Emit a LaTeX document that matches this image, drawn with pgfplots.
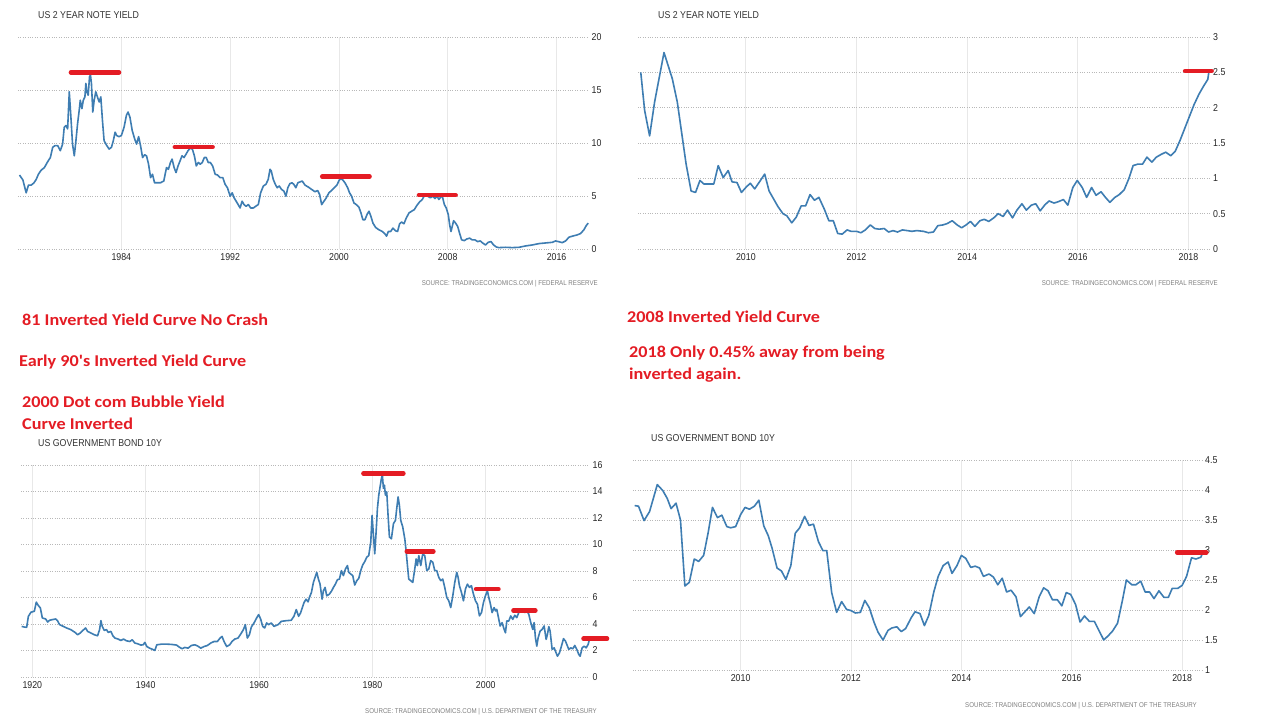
\documentclass[border=0pt]{standalone}
\usepackage{pgfplots}
\pgfplotsset{compat=1.18}
\usepackage{fontspec}
\setmainfont{Liberation Sans}
\newfontfamily\tefont[FakeStretch=0.88]{Liberation Sans}
\newfontfamily\redfont[FakeStretch=1.1]{Carlito}
\definecolor{teblue}{RGB}{62,125,178}
\definecolor{tered}{RGB}{228,28,36}
\pgfplotsset{tepanel/.style={
  anchor=south west, scale only axis, clip=false,
  axis line style={draw=none},
  major tick length=0pt,
  xmajorgrids, ymajorgrids,
  major x grid style={draw=black!9, line width=0.8pt},
  major y grid style={draw=black!28, dotted, line width=0.6pt},
  yticklabel pos=right,
  tick label style={font=\tefont\fontsize{10}{10}\selectfont, text=black!85},
  xticklabel style={inner sep=0pt, yshift=-4pt},
  yticklabel style={inner sep=0pt, xshift=3pt},
  /pgf/number format/assume math mode=true,
  /pgf/number format/1000 sep={},
  scaled ticks=false,
},
teline/.style={teblue, line width=1.6pt, line join=round},
tebar/.style={tered, line width=4.5pt, line cap=round}}
\begin{document}
\begin{tikzpicture}
\fill[white] (0pt,0pt) rectangle (1280pt,728pt);
\path[use as bounding box] (0pt,0pt) rectangle (1280pt,728pt);
% ---------------- Panel 1
\begin{axis}[tepanel, at={(18pt,479pt)}, width=570.5pt, height=212pt,
  xmin=1976.4, xmax=2018.35, ymin=0, ymax=20,
  xtick={1984,1992,2000,2008,2016}, ytick={0,5,10,15,20}]
\addplot[teline] coordinates {(1976.51,6.98)(1976.76,6.51)(1977.00,5.30)(1977.17,6.03)(1977.37,6.03)(1977.56,6.22)(1977.73,6.54)(1977.90,7.05)(1978.10,7.43)(1978.34,7.68)(1978.59,8.25)(1978.78,8.63)(1978.95,9.59)(1979.12,9.75)(1979.32,9.75)(1979.51,9.27)(1979.68,9.90)(1979.80,11.49)(1979.93,11.65)(1980.05,11.33)(1980.17,14.83)(1980.29,12.44)(1980.41,9.90)(1980.54,8.79)(1980.66,10.22)(1980.78,11.81)(1980.90,13.08)(1980.98,14.03)(1981.10,13.24)(1981.20,14.03)(1981.32,14.35)(1981.39,15.62)(1981.46,14.83)(1981.56,14.51)(1981.66,16.25)(1981.73,16.41)(1981.80,15.62)(1981.90,12.92)(1982.00,14.03)(1982.12,14.83)(1982.24,14.35)(1982.37,13.87)(1982.49,14.35)(1982.61,12.13)(1982.73,10.22)(1982.93,9.75)(1983.10,9.43)(1983.27,9.59)(1983.41,10.22)(1983.54,11.02)(1983.66,10.70)(1983.83,10.60)(1984.00,10.70)(1984.20,11.49)(1984.37,12.60)(1984.49,12.92)(1984.63,12.44)(1984.80,11.17)(1984.98,10.38)(1985.12,9.90)(1985.27,10.60)(1985.41,9.75)(1985.56,8.63)(1985.71,8.89)(1985.85,8.79)(1986.00,8.00)(1986.15,6.73)(1986.29,7.05)(1986.44,6.25)(1986.63,6.25)(1986.88,6.25)(1987.12,6.41)(1987.32,7.68)(1987.46,7.52)(1987.61,8.16)(1987.73,8.48)(1987.88,7.68)(1988.02,7.21)(1988.17,7.84)(1988.32,8.32)(1988.46,8.79)(1988.61,8.63)(1988.76,8.95)(1988.90,9.27)(1989.07,9.52)(1989.22,9.43)(1989.37,8.79)(1989.51,7.84)(1989.66,8.16)(1989.80,8.00)(1989.95,8.16)(1990.10,8.63)(1990.24,8.63)(1990.39,8.16)(1990.54,8.16)(1990.71,7.84)(1990.90,7.05)(1991.07,6.98)(1991.27,6.73)(1991.46,6.73)(1991.63,6.10)(1991.80,5.78)(1992.00,4.98)(1992.15,5.30)(1992.29,4.83)(1992.44,4.51)(1992.59,4.19)(1992.73,3.87)(1992.88,4.51)(1993.02,4.19)(1993.17,4.03)(1993.34,4.19)(1993.51,3.87)(1993.71,3.87)(1993.88,4.03)(1994.07,4.19)(1994.24,5.30)(1994.44,5.94)(1994.63,6.10)(1994.80,6.57)(1994.93,7.52)(1995.02,7.37)(1995.17,6.57)(1995.32,6.10)(1995.46,5.78)(1995.61,5.94)(1995.78,5.62)(1995.95,5.46)(1996.10,4.98)(1996.24,5.78)(1996.39,6.16)(1996.54,6.25)(1996.68,6.10)(1996.83,5.78)(1996.98,6.25)(1997.30,6.41)(1997.50,6.03)(1997.75,5.84)(1997.99,5.62)(1998.24,5.40)(1998.43,5.52)(1998.58,5.14)(1998.73,4.19)(1998.90,4.51)(1999.07,4.83)(1999.26,5.30)(1999.46,5.52)(1999.66,5.78)(1999.85,6.03)(2000.05,6.57)(2000.25,6.57)(2000.44,6.25)(2000.64,5.78)(2000.78,5.30)(2000.93,4.98)(2001.10,4.35)(2001.27,4.19)(2001.47,3.94)(2001.62,3.40)(2001.76,2.76)(2001.91,2.76)(2002.08,3.30)(2002.21,3.56)(2002.35,3.08)(2002.50,2.44)(2002.70,2.03)(2002.94,1.81)(2003.19,1.65)(2003.38,1.43)(2003.50,1.21)(2003.63,1.65)(2003.80,1.65)(2003.97,1.97)(2004.17,1.71)(2004.31,1.65)(2004.46,2.38)(2004.61,2.54)(2004.78,2.38)(2004.95,2.92)(2005.15,3.40)(2005.34,3.56)(2005.54,3.71)(2005.74,4.13)(2005.93,4.44)(2006.13,4.67)(2006.32,5.14)(2006.52,4.98)(2006.72,4.83)(2006.91,4.98)(2007.06,4.76)(2007.21,4.98)(2007.35,4.67)(2007.50,4.92)(2007.60,4.98)(2007.75,4.19)(2007.89,3.87)(2008.04,3.24)(2008.14,2.29)(2008.24,1.65)(2008.33,2.13)(2008.43,2.67)(2008.58,2.44)(2008.73,2.13)(2008.87,1.49)(2009.02,0.86)(2009.22,0.79)(2009.41,0.95)(2009.61,1.02)(2009.80,0.86)(2010.00,0.86)(2010.20,0.70)(2010.39,0.76)(2010.59,0.54)(2010.78,0.38)(2010.98,0.63)(2011.18,0.70)(2011.37,0.38)(2011.57,0.19)(2011.76,0.13)(2012.25,0.16)(2012.75,0.13)(2013.24,0.16)(2013.73,0.29)(2014.22,0.38)(2014.71,0.51)(2015.20,0.57)(2015.69,0.63)(2015.93,0.76)(2016.13,0.70)(2016.42,0.60)(2016.67,0.76)(2016.91,1.11)(2017.16,1.21)(2017.52,1.33)(2017.77,1.46)(2018.01,1.81)(2018.19,2.22)(2018.33,2.44)};
\addplot[tebar] coordinates {(1980.29,16.67)(1983.83,16.67)};
\addplot[tebar] coordinates {(1987.93,9.62)(1990.71,9.62)};
\addplot[tebar] coordinates {(1998.77,6.83)(2002.25,6.83)};
\addplot[tebar] coordinates {(2005.88,5.08)(2008.58,5.08)};
\end{axis}
% ---------------- Panel 2
\begin{axis}[tepanel, at={(638pt,479pt)}, width=572pt, height=212pt,
  xmin=2008.05, xmax=2018.39, ymin=0, ymax=3,
  xtick={2010,2012,2014,2016,2018}, ytick={0,0.5,1,1.5,2,2.5,3}]
\addplot[teline] coordinates {(2008.10,2.50)(2008.17,1.96)(2008.26,1.60)(2008.35,2.08)(2008.52,2.78)(2008.67,2.41)(2008.76,2.08)(2008.92,1.20)(2009.01,0.82)(2009.09,0.80)(2009.17,0.97)(2009.24,0.92)(2009.42,0.92)(2009.50,1.18)(2009.59,1.01)(2009.68,1.11)(2009.75,0.95)(2009.84,0.94)(2009.92,0.80)(2010.01,0.88)(2010.08,0.93)(2010.16,0.85)(2010.34,1.06)(2010.42,0.82)(2010.58,0.60)(2010.67,0.50)(2010.74,0.47)(2010.83,0.37)(2010.91,0.45)(2011.00,0.61)(2011.08,0.61)(2011.16,0.77)(2011.24,0.69)(2011.32,0.73)(2011.42,0.56)(2011.50,0.40)(2011.58,0.40)(2011.66,0.22)(2011.74,0.21)(2011.83,0.27)(2011.90,0.25)(2012.00,0.25)(2012.08,0.23)(2012.16,0.27)(2012.25,0.34)(2012.33,0.29)(2012.41,0.28)(2012.50,0.29)(2012.58,0.24)(2012.66,0.26)(2012.74,0.24)(2012.83,0.27)(2012.92,0.26)(2013.00,0.25)(2013.09,0.26)(2013.21,0.25)(2013.30,0.23)(2013.39,0.24)(2013.47,0.33)(2013.56,0.34)(2013.64,0.36)(2013.73,0.40)(2013.82,0.34)(2013.90,0.30)(2013.98,0.34)(2014.06,0.39)(2014.14,0.32)(2014.23,0.40)(2014.31,0.42)(2014.39,0.39)(2014.48,0.44)(2014.56,0.50)(2014.65,0.46)(2014.73,0.55)(2014.82,0.44)(2014.90,0.55)(2014.99,0.64)(2015.07,0.55)(2015.16,0.62)(2015.24,0.64)(2015.32,0.54)(2015.40,0.62)(2015.48,0.68)(2015.57,0.65)(2015.65,0.67)(2015.74,0.70)(2015.82,0.62)(2015.91,0.87)(2015.99,0.97)(2016.08,0.87)(2016.16,0.73)(2016.25,0.87)(2016.33,0.76)(2016.42,0.81)(2016.50,0.73)(2016.58,0.66)(2016.67,0.73)(2016.75,0.77)(2016.84,0.84)(2016.92,0.99)(2017.00,1.18)(2017.08,1.20)(2017.17,1.20)(2017.25,1.30)(2017.34,1.23)(2017.42,1.30)(2017.51,1.34)(2017.59,1.37)(2017.68,1.32)(2017.76,1.38)(2017.85,1.54)(2017.93,1.70)(2018.02,1.88)(2018.10,2.04)(2018.19,2.19)(2018.27,2.30)(2018.35,2.40)(2018.37,2.51)};
\addplot[tebar] coordinates {(2017.94,2.52)(2018.42,2.52)};
\end{axis}
% ---------------- Panel 3
\begin{axis}[tepanel, at={(21pt,51pt)}, width=568.5pt, height=212pt,
  xmin=1918.0, xmax=2018.3, ymin=0, ymax=16,
  xtick={1920,1940,1960,1980,2000}, ytick={0,2,4,6,8,10,12,14,16}]
\addplot[teline] coordinates {(1918.12,3.82)(1918.59,3.77)(1919.00,3.75)(1919.30,4.58)(1919.77,4.89)(1920.35,4.96)(1920.70,5.65)(1921.06,5.39)(1921.41,5.22)(1921.76,4.46)(1922.35,4.38)(1922.70,4.15)(1923.05,4.28)(1923.52,4.33)(1924.11,4.38)(1924.46,4.23)(1924.81,3.95)(1925.46,3.82)(1926.05,3.70)(1926.81,3.57)(1927.52,3.37)(1927.99,3.19)(1928.46,3.32)(1928.93,3.52)(1929.40,3.70)(1929.75,3.44)(1930.33,3.32)(1930.92,3.19)(1931.51,3.11)(1931.86,3.57)(1932.10,4.25)(1932.33,3.82)(1932.68,3.52)(1933.09,3.57)(1933.39,3.37)(1933.86,3.44)(1934.21,3.11)(1934.56,2.94)(1935.15,2.86)(1935.62,2.76)(1936.09,2.86)(1936.62,2.73)(1937.21,2.68)(1937.62,2.81)(1938.09,2.56)(1938.56,2.51)(1939.14,2.41)(1939.55,2.43)(1939.85,2.61)(1940.20,2.30)(1940.67,2.18)(1941.14,2.10)(1941.61,2.00)(1941.96,2.43)(1942.78,2.48)(1943.66,2.48)(1944.54,2.46)(1945.43,2.41)(1945.95,2.25)(1946.42,2.13)(1946.89,2.23)(1947.48,2.18)(1948.07,2.38)(1948.66,2.43)(1949.12,2.35)(1949.71,2.18)(1950.30,2.30)(1950.89,2.38)(1951.47,2.56)(1952.06,2.68)(1952.65,2.68)(1953.12,2.94)(1953.47,3.06)(1953.82,2.68)(1954.29,2.30)(1954.82,2.43)(1955.23,2.68)(1955.70,2.86)(1956.29,2.94)(1956.88,3.32)(1957.23,3.57)(1957.58,3.95)(1957.93,2.94)(1958.29,3.19)(1958.64,3.77)(1959.11,4.08)(1959.58,4.46)(1959.93,4.71)(1960.28,4.38)(1960.64,3.82)(1960.99,3.70)(1961.34,4.08)(1961.69,3.95)(1962.16,4.08)(1962.63,3.82)(1963.34,3.95)(1963.92,4.20)(1964.80,4.25)(1965.68,4.28)(1966.15,4.58)(1966.57,5.09)(1966.98,4.58)(1967.33,4.84)(1967.94,5.62)(1968.29,5.87)(1968.65,5.67)(1968.88,6.00)(1969.24,6.38)(1969.59,7.14)(1969.88,7.52)(1970.18,7.90)(1970.47,7.39)(1970.76,7.01)(1971.12,5.87)(1971.35,6.51)(1971.65,6.76)(1971.94,6.13)(1972.41,6.25)(1972.82,6.51)(1973.12,6.76)(1973.47,7.01)(1973.82,7.34)(1974.18,7.39)(1974.53,8.03)(1974.88,7.65)(1975.24,8.15)(1975.59,8.41)(1975.82,7.90)(1976.18,7.77)(1976.53,7.65)(1976.88,6.94)(1977.24,7.27)(1977.59,7.44)(1977.94,8.03)(1978.29,8.46)(1978.65,8.71)(1979.00,9.04)(1979.35,9.16)(1979.71,10.18)(1979.94,12.20)(1980.18,10.68)(1980.41,9.29)(1980.65,10.94)(1980.88,12.71)(1981.12,13.72)(1981.35,14.35)(1981.59,14.99)(1981.76,15.24)(1981.94,14.23)(1982.12,14.48)(1982.29,13.72)(1982.53,13.97)(1982.76,12.20)(1983.00,10.56)(1983.35,10.43)(1983.71,11.57)(1984.06,11.82)(1984.29,12.71)(1984.53,13.59)(1984.76,12.96)(1985.00,11.82)(1985.35,11.32)(1985.71,10.43)(1985.94,9.54)(1986.18,8.41)(1986.41,7.39)(1986.76,7.27)(1987.12,7.14)(1987.47,8.15)(1987.71,8.91)(1987.94,8.41)(1988.18,9.16)(1988.53,8.41)(1988.88,9.29)(1989.24,9.16)(1989.59,8.03)(1989.94,8.15)(1990.29,8.78)(1990.65,8.66)(1991.00,8.03)(1991.35,8.03)(1991.71,7.52)(1992.06,7.27)(1992.41,7.39)(1992.76,6.76)(1993.12,6.00)(1993.47,5.75)(1993.82,5.24)(1994.18,6.13)(1994.53,7.14)(1994.88,7.90)(1995.12,7.52)(1995.35,6.89)(1995.71,6.38)(1996.06,5.75)(1996.41,6.63)(1996.76,7.01)(1997.12,6.76)(1997.47,6.89)(1997.82,6.25)(1998.18,5.75)(1998.53,5.49)(1998.88,4.61)(1999.24,4.86)(1999.59,5.62)(1999.94,6.13)(2000.29,6.51)(2000.53,6.00)(2000.76,5.62)(2001.12,4.86)(2001.47,5.24)(2001.71,4.99)(2001.94,5.11)(2002.24,4.48)(2002.53,3.85)(2002.88,4.10)(2003.24,3.59)(2003.47,3.34)(2003.71,4.23)(2004.06,4.23)(2004.41,4.61)(2004.76,4.35)(2005.12,4.66)(2005.47,4.48)(2005.82,4.86)(2006.18,5.11)(2006.53,4.99)(2006.88,4.86)(2007.24,4.99)(2007.59,4.73)(2007.94,4.10)(2008.29,3.59)(2008.53,4.10)(2008.76,2.96)(2009.00,2.33)(2009.24,2.96)(2009.59,3.47)(2009.94,3.59)(2010.29,3.85)(2010.65,2.84)(2010.88,3.22)(2011.12,3.80)(2011.35,3.47)(2011.71,2.08)(2012.06,2.20)(2012.41,1.82)(2012.65,1.57)(2013.00,1.82)(2013.35,2.33)(2013.71,2.89)(2014.06,2.71)(2014.29,2.46)(2014.65,2.08)(2015.00,2.20)(2015.35,2.13)(2015.71,2.38)(2016.06,2.08)(2016.41,1.70)(2016.65,1.57)(2017.00,2.20)(2017.35,2.33)(2017.71,2.20)(2018.06,2.46)(2018.29,2.84)};
\addplot[tebar] coordinates {(1978.41,15.37)(1985.47,15.37)};
\addplot[tebar] coordinates {(1986.06,9.49)(1990.76,9.49)};
\addplot[tebar] coordinates {(1998.29,6.63)(2002.24,6.63)};
\addplot[tebar] coordinates {(2004.88,5.01)(2008.76,5.01)};
\addplot[tebar] coordinates {(2017.24,2.89)(2021.4,2.89)};
\end{axis}
% ---------------- Panel 4
\begin{axis}[tepanel, at={(633pt,58pt)}, width=569pt, height=210pt,
  xmin=2008.05, xmax=2018.36, ymin=1, ymax=4.5,
  xtick={2010,2012,2014,2016,2018}, ytick={1,1.5,2,2.5,3,3.5,4,4.5}]
\addplot[teline] coordinates {(2008.08,3.74)(2008.15,3.73)(2008.25,3.49)(2008.35,3.64)(2008.49,4.09)(2008.59,3.99)(2008.67,3.86)(2008.74,3.69)(2008.83,3.78)(2008.91,3.50)(2008.99,2.40)(2009.07,2.46)(2009.16,2.85)(2009.24,2.81)(2009.33,2.91)(2009.41,3.28)(2009.49,3.71)(2009.58,3.54)(2009.66,3.58)(2009.75,3.39)(2009.82,3.37)(2009.91,3.39)(2010.00,3.59)(2010.08,3.71)(2010.16,3.68)(2010.25,3.73)(2010.33,3.83)(2010.42,3.40)(2010.50,3.24)(2010.57,3.03)(2010.66,2.70)(2010.74,2.65)(2010.82,2.51)(2010.91,2.74)(2010.99,3.28)(2011.07,3.37)(2011.16,3.56)(2011.24,3.41)(2011.32,3.43)(2011.41,3.14)(2011.49,2.99)(2011.56,2.99)(2011.65,2.29)(2011.74,1.96)(2011.83,2.14)(2011.92,2.01)(2012.00,1.99)(2012.08,1.95)(2012.17,1.96)(2012.25,2.16)(2012.33,2.04)(2012.42,1.79)(2012.49,1.63)(2012.58,1.50)(2012.67,1.66)(2012.74,1.70)(2012.83,1.72)(2012.91,1.64)(2012.99,1.69)(2013.09,1.87)(2013.16,1.97)(2013.25,1.94)(2013.33,1.74)(2013.41,1.91)(2013.50,2.30)(2013.58,2.56)(2013.67,2.74)(2013.76,2.80)(2013.83,2.61)(2013.92,2.74)(2014.00,2.91)(2014.08,2.86)(2014.17,2.71)(2014.25,2.73)(2014.33,2.70)(2014.40,2.56)(2014.50,2.60)(2014.58,2.55)(2014.66,2.42)(2014.74,2.53)(2014.82,2.30)(2014.90,2.33)(2014.99,2.22)(2015.07,1.89)(2015.16,1.98)(2015.23,2.05)(2015.32,1.94)(2015.41,2.22)(2015.49,2.37)(2015.57,2.32)(2015.65,2.17)(2015.74,2.17)(2015.82,2.07)(2015.90,2.29)(2015.98,2.26)(2016.07,2.09)(2016.15,1.80)(2016.23,1.90)(2016.32,1.81)(2016.41,1.81)(2016.48,1.68)(2016.58,1.50)(2016.67,1.58)(2016.74,1.65)(2016.83,1.78)(2016.92,2.17)(2016.99,2.50)(2017.09,2.42)(2017.16,2.42)(2017.25,2.48)(2017.33,2.30)(2017.41,2.30)(2017.49,2.19)(2017.58,2.32)(2017.67,2.21)(2017.75,2.21)(2017.82,2.36)(2017.92,2.36)(2018.00,2.41)(2018.08,2.56)(2018.17,2.87)(2018.25,2.85)(2018.34,2.88)(2018.38,2.98)};
\addplot[tebar] coordinates {(2017.91,2.96)(2018.44,2.96)};
\end{axis}
% ---------------- Titles and sources
\begin{scope}[every node/.style={inner sep=0pt}]
\node[anchor=west, text=black!80, font=\tefont\fontsize{10}{10}\selectfont] at (38pt,713pt) {US 2 YEAR NOTE YIELD};
\node[anchor=west, text=black!80, font=\tefont\fontsize{10}{10}\selectfont] at (658pt,713pt) {US 2 YEAR NOTE YIELD};
\node[anchor=west, text=black!80, font=\tefont\fontsize{10}{10}\selectfont] at (38pt,285pt) {US GOVERNMENT BOND 10Y};
\node[anchor=west, text=black!80, font=\tefont\fontsize{10}{10}\selectfont] at (651pt,290pt) {US GOVERNMENT BOND 10Y};
\node[anchor=east, text=black!50, font=\tefont\fontsize{7}{7}\selectfont] at (598pt,444pt) {SOURCE: TRADINGECONOMICS.COM | FEDERAL RESERVE};
\node[anchor=east, text=black!50, font=\tefont\fontsize{7}{7}\selectfont] at (1218pt,444pt) {SOURCE: TRADINGECONOMICS.COM | FEDERAL RESERVE};
\node[anchor=east, text=black!50, font=\tefont\fontsize{7}{7}\selectfont] at (597pt,16pt) {SOURCE: TRADINGECONOMICS.COM | U.S. DEPARTMENT OF THE TREASURY};
\node[anchor=east, text=black!50, font=\tefont\fontsize{7}{7}\selectfont] at (1197pt,22pt) {SOURCE: TRADINGECONOMICS.COM | U.S. DEPARTMENT OF THE TREASURY};
% red annotations
\node[anchor=west, text=tered, font=\redfont\bfseries\fontsize{16.5}{16.5}\selectfont] at (22pt,408pt) {81 Inverted Yield Curve No Crash};
\node[anchor=west, text=tered, font=\redfont\bfseries\fontsize{16.5}{16.5}\selectfont] at (19pt,366pt) {Early 90's Inverted Yield Curve};
\node[anchor=west, text=tered, font=\redfont\bfseries\fontsize{16.5}{16.5}\selectfont] at (22pt,326pt) {2000 Dot com Bubble Yield};
\node[anchor=west, text=tered, font=\redfont\bfseries\fontsize{16.5}{16.5}\selectfont] at (22pt,304pt) {Curve Inverted};
\node[anchor=west, text=tered, font=\redfont\bfseries\fontsize{16.5}{16.5}\selectfont] at (627pt,411pt) {2008 Inverted Yield Curve};
\node[anchor=west, text=tered, font=\redfont\bfseries\fontsize{16.5}{16.5}\selectfont] at (629pt,375pt) {2018 Only 0.45\% away from being};
\node[anchor=west, text=tered, font=\redfont\bfseries\fontsize{16.5}{16.5}\selectfont] at (629pt,353pt) {inverted again.};
\end{scope}
\end{tikzpicture}
\end{document}
